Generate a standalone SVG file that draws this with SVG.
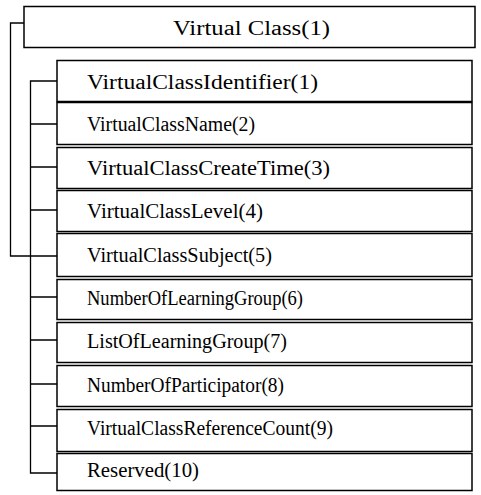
<svg xmlns="http://www.w3.org/2000/svg" width="481" height="495" viewBox="0 0 481 495">
  <style>
    .box { fill: #ffffff; stroke: #000000; stroke-width: 1.5; }
    .wire { fill: none; stroke: #000000; stroke-width: 1.3; }
    .label { font-family: "Liberation Serif", "Times New Roman", serif; font-size: 20px; fill: #000000; }
  </style>
  <rect width="481" height="495" fill="#ffffff"/>

  <!-- tree connectors -->
  <g id="connectors">
    <!-- outer bracket: Virtual Class to Subject -->
    <path class="wire" d="M24,23 H10.5 V256 H57"/>
    <!-- inner bracket: spine for the attribute list -->
    <path class="wire" d="M57,81 H30.5 V473 H57"/>
    <path class="wire" d="M31,124 H57 M31,167 H57 M31,210 H57 M31,297 H57 M31,340 H57 M31,384 H57 M31,426 H57"/>
  </g>

  <g id="virtual-class">
    <rect class="box" x="24" y="6.5" width="451" height="41"/>
    <text class="label" x="173" y="35" textLength="157" lengthAdjust="spacingAndGlyphs">Virtual  Class(1)</text>
  </g>

  <g id="identifier">
    <rect class="box" x="57" y="60.5" width="415" height="41"/>
    <text class="label" x="87" y="89" textLength="231" lengthAdjust="spacingAndGlyphs">VirtualClassIdentifier(1)</text>
  </g>
  <g id="name">
    <rect class="box" x="57" y="102.5" width="415" height="42"/>
    <text class="label" x="87" y="131" textLength="168" lengthAdjust="spacingAndGlyphs">VirtualClassName(2)</text>
  </g>
  <g id="create-time">
    <rect class="box" x="57" y="147.5" width="415" height="41"/>
    <text class="label" x="87" y="175" textLength="243" lengthAdjust="spacingAndGlyphs">VirtualClassCreateTime(3)</text>
  </g>
  <g id="level">
    <rect class="box" x="57" y="190.5" width="415" height="41"/>
    <text class="label" x="87" y="218" textLength="176" lengthAdjust="spacingAndGlyphs">VirtualClassLevel(4)</text>
  </g>
  <g id="subject">
    <rect class="box" x="57" y="233.5" width="415" height="43"/>
    <text class="label" x="87" y="262" textLength="185" lengthAdjust="spacingAndGlyphs">VirtualClassSubject(5)</text>
  </g>
  <g id="number-of-learning-group">
    <rect class="box" x="57" y="279.5" width="415" height="40"/>
    <text class="label" x="87" y="305" textLength="216" lengthAdjust="spacingAndGlyphs">NumberOfLearningGroup(6)</text>
  </g>
  <g id="list-of-learning-group">
    <rect class="box" x="57" y="322.5" width="415" height="40"/>
    <text class="label" x="87" y="348" textLength="200" lengthAdjust="spacingAndGlyphs">ListOfLearningGroup(7)</text>
  </g>
  <g id="number-of-participator">
    <rect class="box" x="57" y="365.5" width="415" height="41"/>
    <text class="label" x="87" y="392" textLength="197" lengthAdjust="spacingAndGlyphs">NumberOfParticipator(8)</text>
  </g>
  <g id="reference-count">
    <rect class="box" x="57" y="409.5" width="415" height="42"/>
    <text class="label" x="87" y="435" textLength="246" lengthAdjust="spacingAndGlyphs">VirtualClassReferenceCount(9)</text>
  </g>
  <g id="reserved">
    <rect class="box" x="57" y="453.5" width="415" height="37"/>
    <text class="label" x="87" y="477" textLength="112" lengthAdjust="spacingAndGlyphs">Reserved(10)</text>
  </g>
</svg>
